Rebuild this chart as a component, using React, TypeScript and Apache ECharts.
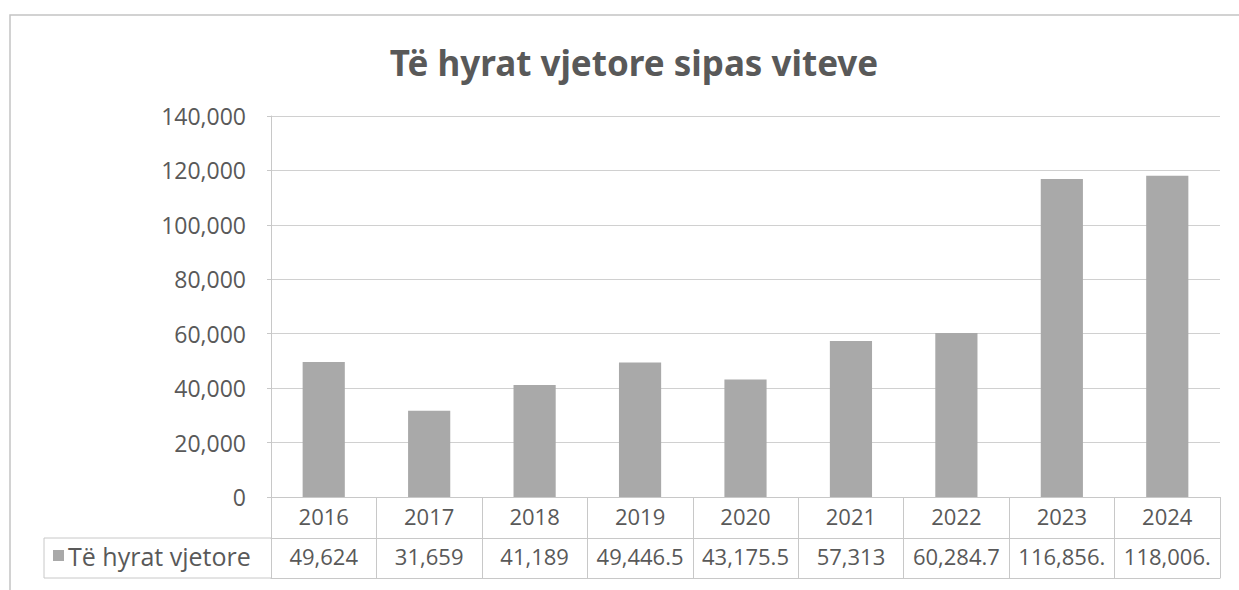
import React, { useEffect, useRef } from "react";
import * as echarts from "echarts";

const categories = ["2016", "2017", "2018", "2019", "2020", "2021", "2022", "2023", "2024"];
const values = [49624, 31659, 41189, 49446.5, 43175.5, 57313, 60284.7, 116856.3, 118006.2];
const tableLabels = ["49,624", "31,659", "41,189", "49,446.5", "43,175.5", "57,313", "60,284.7", "116,856.", "118,006."];
const seriesName = "Të hyrat vjetore";
const titleText = "Të hyrat vjetore sipas viteve";

const W = 1239;
const H = 590;
const GL = 271;
const GR = 1220;
const GT = 116;
const GB = 497;
const ROW = 41;
const FONT = "'Open Sans', 'Noto Sans', sans-serif";
const TXT = "#595959";
const LINE = "#c8c8c8";

export default function App() {
  const ref = useRef<HTMLDivElement>(null);
  useEffect(() => {
    document.body.style.margin = "0";
    const chart = echarts.init(ref.current!, null, { renderer: "svg" });
    chart.setOption({
      animation: false,
      backgroundColor: "#ffffff",
      grid: { left: GL, right: W - GR, top: GT, bottom: H - GB },
      legend: {
        show: true,
        left: 53,
        top: 543,
        icon: "rect",
        itemWidth: 11,
        itemHeight: 11,
        itemGap: 6,
        padding: 0,
        textStyle: { fontFamily: FONT, fontSize: 25, color: TXT, padding: [0, 0, 0, -1] },
        data: [seriesName],
      },
      xAxis: [
        {
          type: "category",
          data: categories,
          position: "bottom",
          axisLine: { show: true, lineStyle: { color: LINE, width: 1 } },
          axisTick: { show: true, interval: 0, length: ROW, lineStyle: { color: LINE } },
          axisLabel: { interval: 0, hideOverlap: false, fontFamily: FONT, fontSize: 22, color: TXT, margin: 8 },
          splitLine: { show: false },
        },
        {
          type: "category",
          data: tableLabels,
          position: "bottom",
          offset: ROW,
          axisLine: { show: true, lineStyle: { color: LINE, width: 1 } },
          axisTick: { show: true, interval: 0, length: ROW - 1, lineStyle: { color: LINE } },
          axisLabel: { interval: 0, hideOverlap: false, fontFamily: FONT, fontSize: 22, color: TXT, margin: 7 },
          splitLine: { show: false },
        },
        {
          type: "category",
          data: categories,
          position: "bottom",
          offset: 2 * ROW - 1,
          axisLine: { show: true, lineStyle: { color: LINE, width: 1 } },
          axisTick: { show: false },
          axisLabel: { show: false },
        },
      ],
      yAxis: {
        type: "value",
        min: 0,
        max: 140000,
        interval: 20000,
        axisLine: { show: true, lineStyle: { color: LINE } },
        axisTick: { show: true, length: 4, lineStyle: { color: LINE } },
        axisLabel: {
          fontFamily: FONT,
          fontSize: 23,
          color: TXT,
          margin: 25,
          formatter: (v: number) => v.toLocaleString("en-US"),
        },
        splitLine: { show: true, lineStyle: { color: "#d0d0d0" } },
      },
      series: [
        {
          name: seriesName,
          type: "bar",
          data: values,
          barWidth: "40%",
          itemStyle: { color: "#a9a9a9" },
        },
      ],
      graphic: [
        {
          type: "rect",
          shape: { x: 10, y: 15, width: W, height: H },
          style: { fill: "none", stroke: "#c4c4c4", lineWidth: 1.5 },
          silent: true,
        },
        {
          type: "polyline",
          shape: {
            points: [
              [GL, GB + ROW],
              [44, GB + ROW],
              [44, GB + 2 * ROW - 1],
              [GL, GB + 2 * ROW - 1],
            ],
          },
          style: { fill: "none", stroke: LINE, lineWidth: 1 },
          silent: true,
        },
        {
          type: "text",
          x: 634,
          y: 62,
          style: {
            text: titleText,
            fontFamily: "'Noto Sans', sans-serif",
            fontSize: 35,
            fontWeight: "bold",
            fill: TXT,
            textAlign: "center",
            textVerticalAlign: "middle",
          },
        },
      ],
    });
    return () => chart.dispose();
  }, []);
  return <div ref={ref} style={{ width: W, height: H }} />;
}
